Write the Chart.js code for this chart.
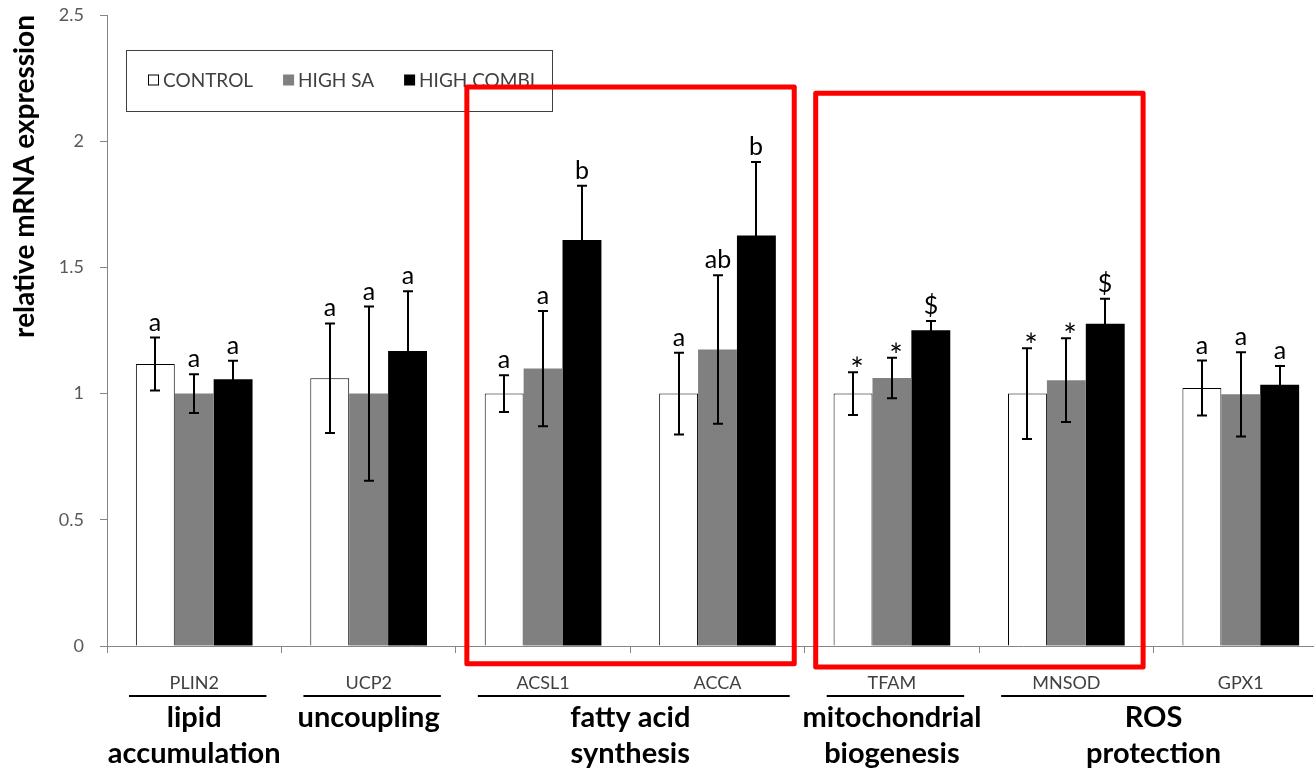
<!DOCTYPE html>
<html>
<head>
<meta charset="utf-8">
<script src="https://cdn.jsdelivr.net/npm/chart.js@4.4.1/dist/chart.umd.min.js"></script>
<style>
  html, body { margin: 0; padding: 0; background: #fff; overflow: hidden; width: 1314px; height: 772px; }
  #wrap { position: absolute; left: 0; top: 0; width: 1340px; height: 772px; }
</style>
</head>
<body>
<div id="wrap"><canvas id="c" width="1340" height="772"></canvas></div>
<script>
// Genes on the x axis
const genes = ['PLIN2', 'UCP2', 'ACSL1', 'ACCA', 'TFAM', 'MNSOD', 'GPX1'];

// Mean relative expression per treatment
const control   = [1.117, 1.061, 1.000, 1.000, 1.000, 1.000, 1.022];
const highSA    = [1.000, 1.000, 1.099, 1.175, 1.062, 1.053, 0.997];
const highCombi = [1.057, 1.169, 1.609, 1.626, 1.251, 1.277, 1.035];

// Error (± half-range) per treatment
const controlErr   = [0.105, 0.217, 0.073, 0.162, 0.085, 0.180, 0.109];
const highSAErr    = [0.077, 0.345, 0.228, 0.294, 0.080, 0.166, 0.167];
const highCombiErr = [0.073, 0.237, 0.214, 0.292, 0.037, 0.099, 0.074];

// Significance marks above each bar
const controlMarks   = ['a', 'a', 'a', 'a', '*', '*', 'a'];
const highSAMarks    = ['a', 'a', 'a', 'ab', '*', '*', 'a'];
const highCombiMarks = ['a', 'a', 'b', 'b', '$', '$', 'a'];

// Y axis
const yTickLabels = ['0', '0.5', '1', '1.5', '2', '2.5'];
const yTitle = 'relative mRNA expression';

// Functional groups under the gene names (first/last gene index)
const groupNames = ['lipid\naccumulation', 'uncoupling', 'fatty acid\nsynthesis', 'mitochondrial\nbiogenesis', 'ROS\nprotection'];
const groupFirst = [0, 1, 2, 4, 5];
const groupLast  = [0, 1, 3, 4, 6];

// Highlight frames: gene span and value span
const frameFirst  = [2, 4];
const frameLast   = [3, 5];
const frameTop    = [2.215, 2.19];
const frameBottom = [-0.07, -0.083];

const errs  = [controlErr, highSAErr, highCombiErr];
const marks = [controlMarks, highSAMarks, highCombiMarks];

Chart.defaults.font.family = 'Lato, "Open Sans", sans-serif';

const overlay = {
  id: 'overlay',
  afterDatasetsDraw(chart) {
    const { ctx, scales: { x, y } } = chart;
    ctx.save();
    errs.forEach((errList, di) => {
      const meta = chart.getDatasetMeta(di);
      const vals = chart.data.datasets[di].data;
      meta.data.forEach((bar, i) => {
        const v = vals[i];
        const top = y.getPixelForValue(v + errList[i]);
        const bot = y.getPixelForValue(v - errList[i]);
        const bx = Math.round(bar.x);
        ctx.strokeStyle = '#000';
        ctx.lineWidth = 2;
        ctx.beginPath();
        ctx.moveTo(bx, top); ctx.lineTo(bx, bot);
        ctx.moveTo(bx - 5, top); ctx.lineTo(bx + 5, top);
        ctx.moveTo(bx - 5, bot); ctx.lineTo(bx + 5, bot);
        ctx.stroke();

        const m = marks[di][i];
        ctx.fillStyle = '#000';
        ctx.textAlign = 'center';
        ctx.textBaseline = 'alphabetic';
        if (m === '*') {
          ctx.font = '32px Lato';
          ctx.fillText(m, bx + 4, top + 9);
        } else {
          ctx.font = '25px Lato';
          ctx.fillText(m, bx, top - 7);
        }
      });
    });
    ctx.restore();
  },
  afterDraw(chart) {
    const { ctx, scales: { x, y }, chartArea } = chart;
    const catW = x.width / genes.length;
    ctx.save();

    // group underlines and names
    groupFirst.forEach((f, g) => {
      const l = groupLast[g];
      const x0 = x.getPixelForValue(f) - catW / 2 + 22;
      const x1 = x.getPixelForValue(l) + catW / 2 - 15;
      const ly = chartArea.bottom + 50;
      ctx.strokeStyle = '#000';
      ctx.lineWidth = 2;
      ctx.beginPath(); ctx.moveTo(x0, ly); ctx.lineTo(x1, ly); ctx.stroke();
      const cx = (x.getPixelForValue(f) + x.getPixelForValue(l)) / 2;
      ctx.fillStyle = '#000';
      ctx.font = 'bold 29px Lato';
      ctx.textAlign = 'center';
      ctx.textBaseline = 'alphabetic';
      groupNames[g].split('\n').forEach((line, k) => {
        ctx.fillText(line, cx, chartArea.bottom + 81 + k * 36);
      });
    });

    // legend box
    const lx = 126, ly = 50, lw = 426, lh = 61;
    ctx.fillStyle = '#fff';
    ctx.fillRect(lx, ly, lw, lh);
    ctx.strokeStyle = '#404040';
    ctx.lineWidth = 1;
    ctx.strokeRect(lx + 0.5, ly + 0.5, lw, lh);
    ctx.font = '19px Lato';
    ctx.textAlign = 'left';
    ctx.textBaseline = 'middle';
    let px = 148;
    const cy = 80;
    chart.data.datasets.forEach(ds => {
      ctx.fillStyle = ds.backgroundColor;
      ctx.fillRect(px, cy - 5.5, 11, 11);
      if (ds.borderWidth) {
        ctx.strokeStyle = '#000';
        ctx.lineWidth = 1;
        ctx.strokeRect(px + 0.5, cy - 5, 10, 10);
      }
      ctx.fillStyle = '#404040';
      ctx.fillText(ds.label, px + 15, cy + 1);
      px += 15 + ctx.measureText(ds.label).width + 30;
    });

    // highlight frames
    ctx.strokeStyle = '#ff0000';
    ctx.lineWidth = 5;
    ctx.lineJoin = 'round';
    frameFirst.forEach((f, k) => {
      const fx0 = x.getPixelForValue(f) - catW * 0.437;
      const fx1 = x.getPixelForValue(frameLast[k]) + catW * 0.44;
      const fy0 = y.getPixelForValue(frameTop[k]);
      const fy1 = y.getPixelForValue(frameBottom[k]);
      ctx.strokeRect(fx0, fy0, fx1 - fx0, fy1 - fy0);
    });
    ctx.restore();
  }
};

new Chart(document.getElementById('c'), {
  type: 'bar',
  data: {
    labels: genes,
    datasets: [
      { label: 'CONTROL', data: control, backgroundColor: '#ffffff', borderColor: '#000000', borderWidth: 1,
        categoryPercentage: 0.669, barPercentage: 1 },
      { label: 'HIGH SA', data: highSA, backgroundColor: '#808080', borderWidth: 0,
        categoryPercentage: 0.669, barPercentage: 1 },
      { label: 'HIGH COMBI', data: highCombi, backgroundColor: '#000000', borderWidth: 0,
        categoryPercentage: 0.669, barPercentage: 1 }
    ]
  },
  options: {
    responsive: false,
    animation: false,
    devicePixelRatio: 1,
    layout: { padding: { top: 15, right: 12, left: 0, bottom: 0 } },
    plugins: { legend: { display: false }, tooltip: { enabled: false } },
    scales: {
      x: {
        grid: { offset: true, drawOnChartArea: false, drawTicks: true, tickLength: 7, color: '#868686', lineWidth: 1 },
        border: { color: '#868686', width: 1 },
        ticks: { color: '#404040', font: { size: 18 }, padding: 19, maxRotation: 0, autoSkip: false },
        afterFit(a) { a.height = 126; a.paddingLeft = 0; a.paddingRight = 0; }
      },
      y: {
        min: 0, max: 2.5,
        ticks: { stepSize: 0.5, color: '#595959', font: { size: 18 }, padding: 16,
                 callback: (v, i) => yTickLabels[i] },
        grid: { drawOnChartArea: false, tickLength: 7, color: '#868686' },
        border: { color: '#868686', width: 1 },
        title: { display: true, text: yTitle, align: 'end', color: '#000',
                 font: { size: 28, weight: 'bold' }, padding: { top: 8, bottom: 0 } },
        afterFit(a) { a.width = 107; a.paddingTop = 0; a.paddingBottom = 0; }
      }
    }
  },
  plugins: [overlay]
});
</script>
</body>
</html>
